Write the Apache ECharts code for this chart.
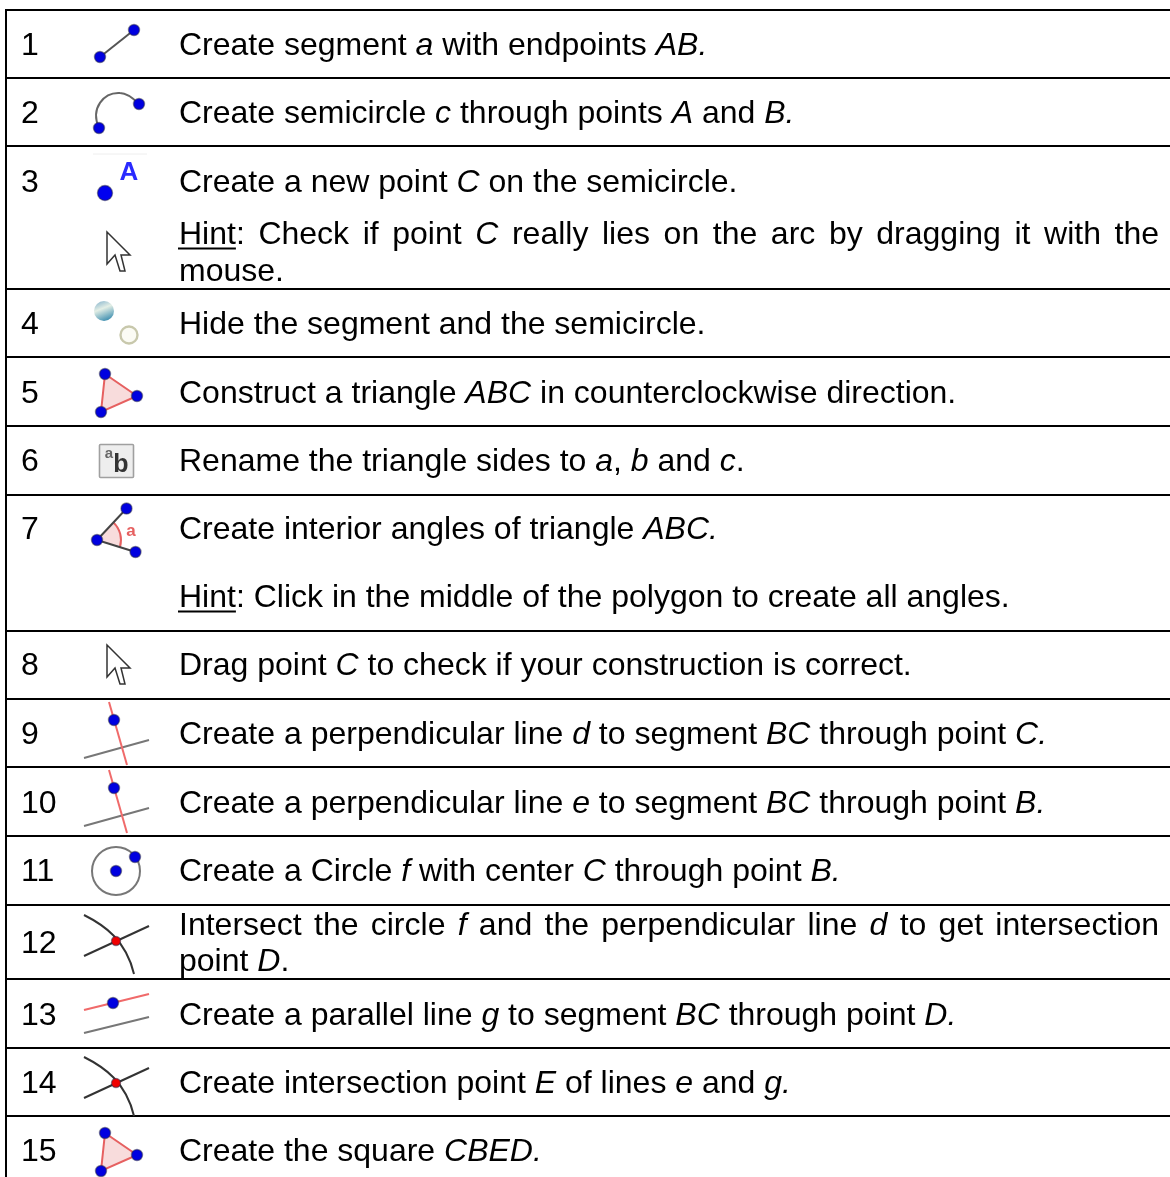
<!DOCTYPE html>
<html>
<head>
<meta charset="utf-8">
<title>Construction steps</title>
<style>
html,body{margin:0;padding:0;background:#fff;}
#main{width:1170px;height:1177px;}
</style>
<script src="https://cdn.jsdelivr.net/npm/echarts@6/dist/echarts.min.js"></script>
</head>
<body>
<div id="main"></div>
<script>
// table rows
var ruleY = [10, 78, 146, 289, 357, 426, 495, 631, 699, 767, 836, 905, 979, 1048, 1116];

var stepLabels = ['1','2','3','4','5','6','7','8','9','10','11','12','13','14','15'];
var stepY = [46, 114, 183, 325, 394, 462, 530, 666, 735, 804, 872, 944, 1016, 1084, 1152];

// {i|..} italic, {u|..} underlined
var textLines = [
    'Create segment {i|a} with endpoints {i|AB.}',
    'Create semicircle {i|c} through points {i|A} and {i|B.}',
    'Create a new point {i|C} on the semicircle.',
    '{u|Hint}: Check if point {i|C} really lies on the arc by dragging it with the',
    'mouse.',
    'Hide the segment and the semicircle.',
    'Construct a triangle {i|ABC} in counterclockwise direction.',
    'Rename the triangle sides to {i|a}, {i|b} and {i|c}.',
    'Create interior angles of triangle {i|ABC.}',
    '{u|Hint}: Click in the middle of the polygon to create all angles.',
    'Drag point {i|C} to check if your construction is correct.',
    'Create a perpendicular line {i|d} to segment {i|BC} through point {i|C.}',
    'Create a perpendicular line {i|e} to segment {i|BC} through point {i|B.}',
    'Create a Circle {i|f} with center {i|C} through point {i|B.}',
    'Intersect the circle {i|f} and the perpendicular line {i|d} to get intersection',
    'point {i|D}.',
    'Create a parallel line {i|g} to segment {i|BC} through point {i|D.}',
    'Create intersection point {i|E} of lines {i|e} and {i|g.}',
    'Create the square {i|CBED.}'
];
var textY = [46, 114, 183, 235, 272, 325, 394, 462, 530, 598, 666, 735, 804, 872, 926, 962, 1016, 1084, 1152];
var textJustified = [3, 14];

var iconNames = ['segment','arc','point','cursor','hide','triangle','rename','angle','cursor','perp','perp','circle','intersect','parallel','intersect','triangle'];
var iconX = [118, 118, 118, 107, 118, 118, 118, 118, 107, 118, 118, 118, 118, 118, 118, 118];
var iconY = [44, 112, 181, 232, 323, 392.5, 461, 530, 645, 733, 801, 871, 942, 1014, 1084, 1151.5];

var FONT = '"Liberation Sans", Arial, sans-serif';
var FONT_SIZE = 32;
var TEXT_LEFT = 179;
var TEXT_RIGHT = 1159;

var measureCtx = document.createElement('canvas').getContext('2d');

// width of a piece of marked up text
function textWidth(s) {
    var w = 0;
    var re = /\{(\w)\|([^}]*)\}|([^{]+)/g;
    var m;
    while ((m = re.exec(s)) !== null) {
        measureCtx.font = (m[1] === 'i' ? 'italic ' : '') + FONT_SIZE + 'px ' + FONT;
        w += measureCtx.measureText(m[1] ? m[2] : m[3]).width;
    }
    return w;
}

function textEl(x, y, s) {
    return {
        type: 'text',
        style: {
            x: x, y: y, text: s, fill: '#000',
            fontFamily: FONT, fontSize: FONT_SIZE,
            align: 'left', verticalAlign: 'middle',
            rich: {
                i: {fontStyle: 'italic', fontFamily: FONT, fontSize: FONT_SIZE, fill: '#000'},
                u: {fontFamily: FONT, fontSize: FONT_SIZE, fill: '#000'}
            }
        }
    };
}

// small helpers for the tool icons, local coordinates around the anchor
function dot(x, y, r, fill) {
    return {type: 'circle', shape: {cx: x, cy: y, r: r || 5.5},
        style: {fill: fill || '#0000e0', stroke: 'rgba(40,40,70,0.5)', lineWidth: 1.4}};
}
function seg(x1, y1, x2, y2, color, w) {
    return {type: 'line', shape: {x1: x1, y1: y1, x2: x2, y2: y2},
        style: {stroke: color || '#555', lineWidth: w || 2}};
}
function curve(d, color, w) {
    return {type: 'path', shape: {pathData: d},
        style: {fill: null, stroke: color || '#444', lineWidth: w || 2}};
}
function label(x, y, s, color, size, weight) {
    return {type: 'text', style: {x: x, y: y, text: s, fill: color, align: 'center', verticalAlign: 'middle',
        fontFamily: FONT, fontSize: size, fontWeight: weight || 'normal'}};
}

var iconDraw = {
    segment: function () {
        return [seg(-18, 13, 16, -14), dot(-18, 13), dot(16, -14)];
    },
    arc: function () {
        return [curve('M-19 16C-28 -4 -14 -20 2 -19C9 -19 15 -14 21 -8', '#666'), dot(-19, 16), dot(21, -8)];
    },
    point: function () {
        return [seg(-25, -27, 29, -27, '#eee', 1), dot(-13, 12, 7.5, '#0000f0'), label(11, -8, 'A', '#2a2aff', 26, 'bold')];
    },
    cursor: function () {
        return [{type: 'polygon',
            shape: {points: [[0, 0], [0, 32], [8, 23], [13, 39], [18, 39], [14, 23], [23, 23]]},
            style: {fill: '#fff', stroke: '#333', lineWidth: 1.5}}];
    },
    hide: function () {
        return [
            {type: 'circle', shape: {cx: -14, cy: -12, r: 10},
                style: {fill: new echarts.graphic.LinearGradient(0.2, 0, 0.6, 1, [
                    {offset: 0, color: '#8fb9cf'}, {offset: 0.4, color: '#e4efe6'}, {offset: 1, color: '#3f8fb0'}
                ])}},
            {type: 'circle', shape: {cx: 11, cy: 12, r: 8.5},
                style: {fill: '#fbfbf4', stroke: '#c8c8ac', lineWidth: 2.4}}
        ];
    },
    triangle: function () {
        var p = [[-13, -18.5], [19, 3.5], [-17, 19.5]];
        return [{type: 'polygon', shape: {points: p},
            style: {fill: '#f8dcdc', stroke: '#e66060', lineWidth: 2}},
            dot(p[0][0], p[0][1]), dot(p[1][0], p[1][1]), dot(p[2][0], p[2][1])];
    },
    rename: function () {
        return [{type: 'rect', shape: {x: -18.5, y: -16.5, width: 34, height: 33, r: 1},
            style: {fill: '#eeeeee', stroke: '#a0a0a0', lineWidth: 1.6}},
            label(-9, -7, 'a', '#666', 15, 'bold'),
            label(3, 4, 'b', '#333', 25, 'bold')];
    },
    angle: function () {
        return [{type: 'sector', shape: {cx: -21, cy: 10, r0: 0, r: 24, startAngle: -0.82, endAngle: 0.3, clockwise: true},
            style: {fill: '#f8dcdc'}},
            {type: 'arc', shape: {cx: -21, cy: 10, r: 24, startAngle: -0.82, endAngle: 0.3, clockwise: true},
                style: {fill: null, stroke: '#e66060', lineWidth: 2}},
            seg(-21, 10, 8.5, -21.5, '#444'), seg(-21, 10, 17.5, 22, '#444'),
            label(13, 1, 'a', '#e66060', 17, 'bold'),
            dot(-21, 10), dot(8.5, -21.5), dot(17.5, 22)];
    },
    perp: function () {
        return [seg(-34, 25, 31, 7, '#777'), seg(-9, -31, 9, 32, '#f06a6a'), dot(-4, -13)];
    },
    circle: function () {
        return [{type: 'circle', shape: {cx: -2, cy: 0, r: 24},
            style: {fill: null, stroke: '#777', lineWidth: 2}}, dot(-2, 0), dot(17, -14)];
    },
    intersect: function () {
        return [seg(-34, 14, 31, -16, '#333'), curve('M-34 -27C-14 -17 8 -2 16 32', '#333'), dot(-2, -1, 4.5, '#f00000')];
    },
    parallel: function () {
        return [seg(-34, 19, 31, 3, '#777'), seg(-34, -4, 31, -20, '#f06a6a'), dot(-5, -11)];
    }
};

var myChart = echarts.init(document.getElementById('main'), null, {renderer: 'canvas'});

myChart.setOption({
    animation: false,
    backgroundColor: '#fff',
    grid: {left: 0, right: 0, top: 0, bottom: 0},
    xAxis: {type: 'value', min: 0, max: 1170, show: false},
    yAxis: {type: 'value', min: 0, max: 1177, inverse: true, show: false},
    series: [
        {
            // row rules and the left border
            type: 'custom',
            clip: false,
            coordinateSystem: 'cartesian2d',
            encode: {x: 0, y: 1},
            data: ruleY.map(function (y) { return [5, y]; }),
            renderItem: function (params, api) {
                var p = api.coord([api.value(0), api.value(1)]);
                var children = [{type: 'rect', shape: {x: p[0], y: p[1] - 1, width: 1170 - p[0], height: 2},
                    style: {fill: '#000'}}];
                if (params.dataIndex === 0) {
                    children.push({type: 'rect', shape: {x: p[0], y: p[1] - 1, width: 2, height: 1177 - p[1] + 1},
                        style: {fill: '#000'}});
                }
                return {type: 'group', children: children};
            }
        },
        {
            // step numbers
            type: 'custom',
            coordinateSystem: 'cartesian2d',
            encode: {x: 0, y: 1},
            data: stepY.map(function (y, i) { return [21, y, i]; }),
            renderItem: function (params, api) {
                var p = api.coord([api.value(0), api.value(1)]);
                return textEl(p[0], p[1], stepLabels[api.value(2)]);
            }
        },
        {
            // instructions
            type: 'custom',
            coordinateSystem: 'cartesian2d',
            encode: {x: 0, y: 1},
            data: textY.map(function (y, i) { return [TEXT_LEFT, y, i]; }),
            renderItem: function (params, api) {
                var p = api.coord([api.value(0), api.value(1)]);
                var idx = api.value(2);
                var s = textLines[idx];
                var children = [];
                if (textJustified.indexOf(idx) >= 0) {
                    // the document justifies this line, spread the words up to the right edge
                    var words = s.split(' ');
                    var sum = 0;
                    words.forEach(function (w) { sum += textWidth(w); });
                    var gap = (TEXT_RIGHT - TEXT_LEFT - sum) / (words.length - 1);
                    var x = p[0];
                    words.forEach(function (w) {
                        children.push(textEl(x, p[1], w));
                        x += textWidth(w) + gap;
                    });
                } else {
                    children.push(textEl(p[0], p[1], s));
                }
                var m = /\{u\|([^}]*)\}/.exec(s);
                if (m) {
                    children.push({type: 'rect',
                        shape: {x: p[0] - 1, y: p[1] + 12.5, width: textWidth(m[1]) + 1, height: 2},
                        style: {fill: '#000'}});
                }
                return {type: 'group', children: children};
            }
        },
        {
            // tool icons
            type: 'custom',
            coordinateSystem: 'cartesian2d',
            encode: {x: 0, y: 1},
            data: iconY.map(function (y, i) { return [iconX[i], y, i]; }),
            renderItem: function (params, api) {
                var p = api.coord([api.value(0), api.value(1)]);
                return {type: 'group', x: p[0], y: p[1], children: iconDraw[iconNames[api.value(2)]]()};
            }
        }
    ]
});
</script>
</body>
</html>
